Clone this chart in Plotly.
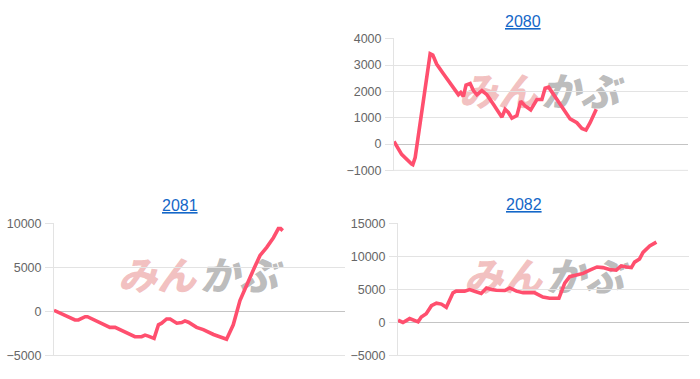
import plotly.graph_objects as go

# ---- data (x: position along the year axis, 0-100; y: cumulative P/L) ----
x2080 = [0, 2.6, 6.0, 6.4, 7.2, 9.4, 10.9, 12.3, 13.2, 14.5, 16.8, 19.1, 21.9, 22.7, 23.6, 24.5,
         25.9, 27.0, 28.2, 29.9, 31.6, 33.8, 36.7, 37.8, 38.9, 40.1, 41.8, 43.1, 44.6, 46.5, 48.6,
         50.3, 51.4, 52.6, 54.3, 56.5, 59.9, 62.2, 63.9, 65.3, 66.7, 68.8]
y2080 = [98, -392, -760, -784, -515, 1200, 2550, 3430, 3380, 3040, 2670, 2300, 1875, 1960, 1810, 2240,
         2300, 2030, 1875, 2030, 1875, 1510, 1020, 1320, 1200, 980, 1080, 1630, 1450, 1300, 1690,
         1690, 2120, 2160, 1875, 1510, 955, 810, 590, 530, 810, 1320]

x2081 = [0, 3.8, 7.2, 8.4, 10.7, 11.5, 14.7, 19.2, 21.0, 22.7, 25.0, 27.8, 30.1, 31.3, 32.4, 34.4,
         35.9, 37.0, 38.7, 39.9, 42.2, 43.9, 45.0, 46.2, 49.0, 51.3, 54.8, 59.3, 61.6, 63.9, 68.5,
         70.8, 73.1, 75.4, 77.1, 77.9, 78.6]
y2081 = [136, -414, -964, -964, -598, -598, -1148, -1808, -1808, -2064, -2431, -2871, -2871, -2688,
         -2798, -3054, -1515, -1331, -854, -854, -1331, -1258, -1074, -1221, -1808, -2064, -2615,
         -3164, -1515, 1236, 4719, 6369, 7286, 8386, 9413, 9413, 9193]

x2082 = [0, 1.7, 4.0, 5.7, 6.9, 8.0, 9.7, 11.5, 13.2, 14.9, 16.6, 18.9, 20.0, 22.9, 24.6, 26.3, 28.6,
         30.4, 32.1, 33.8, 36.7, 38.4, 40.7, 43.0, 47.0, 49.8, 52.1, 55.3, 57.3, 59.0, 61.3, 63.6,
         65.9, 68.4, 70.4, 72.7, 75.0, 76.7, 78.5, 80.2, 81.3, 83.0, 84.2, 86.5, 88.8]
y2082 = [342, 0, 587, 342, 98, 831, 1320, 2543, 2934, 2787, 2298, 4499, 4743, 4743, 4988, 4743, 4401,
         5232, 4988, 4890, 4841, 5232, 4743, 4499, 4499, 3863, 3668, 3668, 5966, 6944, 7188, 7433,
         7922, 8411, 8313, 8020, 7922, 8558, 8411, 8313, 9144, 9633, 10611, 11589, 12176]

titles = ["2080", "2081", "2082"]
LINE = "#ff4f6e"
W, H = 700, 379

fig = go.Figure()
series = [(x2080, y2080), (x2081, y2081), (x2082, y2082)]
for i, (xs, ys) in enumerate(series, start=1):
    fig.add_trace(go.Scatter(x=xs, y=ys, mode="lines",
                             line=dict(color=LINE, width=3.6),
                             xaxis=f"x{i if i > 1 else ''}", yaxis=f"y{i if i > 1 else ''}",
                             showlegend=False, hoverinfo="skip"))

# plot areas in pixels (left, right, top, bottom)
areas = [(394, 688, 34, 170), (54, 345, 225.3, 361.7), (398, 689, 225.3, 361.7)]
yranges = [[-1000, 4000], [-5000, 10000], [-5000, 15000]]
dticks = [1000, 5000, 5000]

shapes = []
axfont = dict(family="Liberation Sans, Arial, sans-serif", size=12.5, color="#666666")
for i, ((l, r, t, b), yr, dt) in enumerate(zip(areas, yranges, dticks), start=1):
    sfx = "" if i == 1 else str(i)
    pad = (yr[1] - yr[0]) * 0.006
    fig.layout[f"xaxis{sfx}"] = dict(domain=[l / W, r / W], range=[0, 100], visible=False,
                                     anchor=f"y{sfx}", fixedrange=True)
    fig.layout[f"yaxis{sfx}"] = dict(domain=[1 - (b + 1) / H, 1 - (t - 0.5) / H],
                                     range=[yr[0] - pad, yr[1] + pad * 0.5], dtick=dt,
                                     tickformat="d",
                                     anchor=f"x{sfx}", showgrid=True, gridcolor="#e3e3e3",
                                     gridwidth=1, zeroline=True, zerolinecolor="#c4c4c4",
                                     zerolinewidth=1, showline=True, linecolor="#e3e3e3",
                                     linewidth=1, ticks="outside", ticklen=8,
                                     tickcolor="#e3e3e3", tickfont=axfont,
                                     ticklabelstandoff=1, fixedrange=True)
    # bottom grid line at the axis minimum
    shapes.append(dict(type="line", xref=f"x{sfx} domain", yref=f"y{sfx}", x0=0, x1=1,
                       y0=yr[0], y1=yr[0], line=dict(color="#e3e3e3", width=1), layer="above"))

# titles
title_pos = [(523, 16), (180, 207), (524, 206)]
annotations = []
for txt, (tx, ty) in zip(titles, title_pos):
    annotations.append(dict(text=f"<u>{txt}</u>", x=tx / W, y=1 - ty / H, xref="paper",
                            yref="paper", showarrow=False, xanchor="center", yanchor="middle",
                            font=dict(family="Liberation Sans, Arial, sans-serif", size=16,
                                      color="#1467c8")))
fig.update_layout(annotations=annotations)

# watermark logo (behind the lines)
wm_centers = [(538, 92), (197, 283), (543, 284)]
for cx, cy in wm_centers:
    for txt, dx, col in [("みん", -40, "rgba(232,140,140,0.55)"), ("かぶ", 42, "rgba(150,150,150,0.65)")]:
        x0 = (cx + dx - 40) / W
        x1 = (cx + dx + 40) / W
        y0 = 1 - (cy + 18) / H
        y1 = 1 - (cy - 18) / H
        shapes.append(dict(type="rect", xref="paper", yref="paper", x0=x0, x1=x1, y0=y0, y1=y1,
                           line=dict(width=0), fillcolor="rgba(0,0,0,0)", layer="between",
                           label=dict(text=txt, textposition="middle center",
                                      font=dict(family="Noto Sans CJK JP", size=39, color=col,
                                                weight=900, style="italic"))))
fig.update_layout(shapes=shapes)

fig.update_layout(width=W, height=H, margin=dict(l=0, r=0, t=0, b=0),
                  paper_bgcolor="white", plot_bgcolor="rgba(0,0,0,0)")

fig.write_html("out.html", config={"displayModeBar": False})
